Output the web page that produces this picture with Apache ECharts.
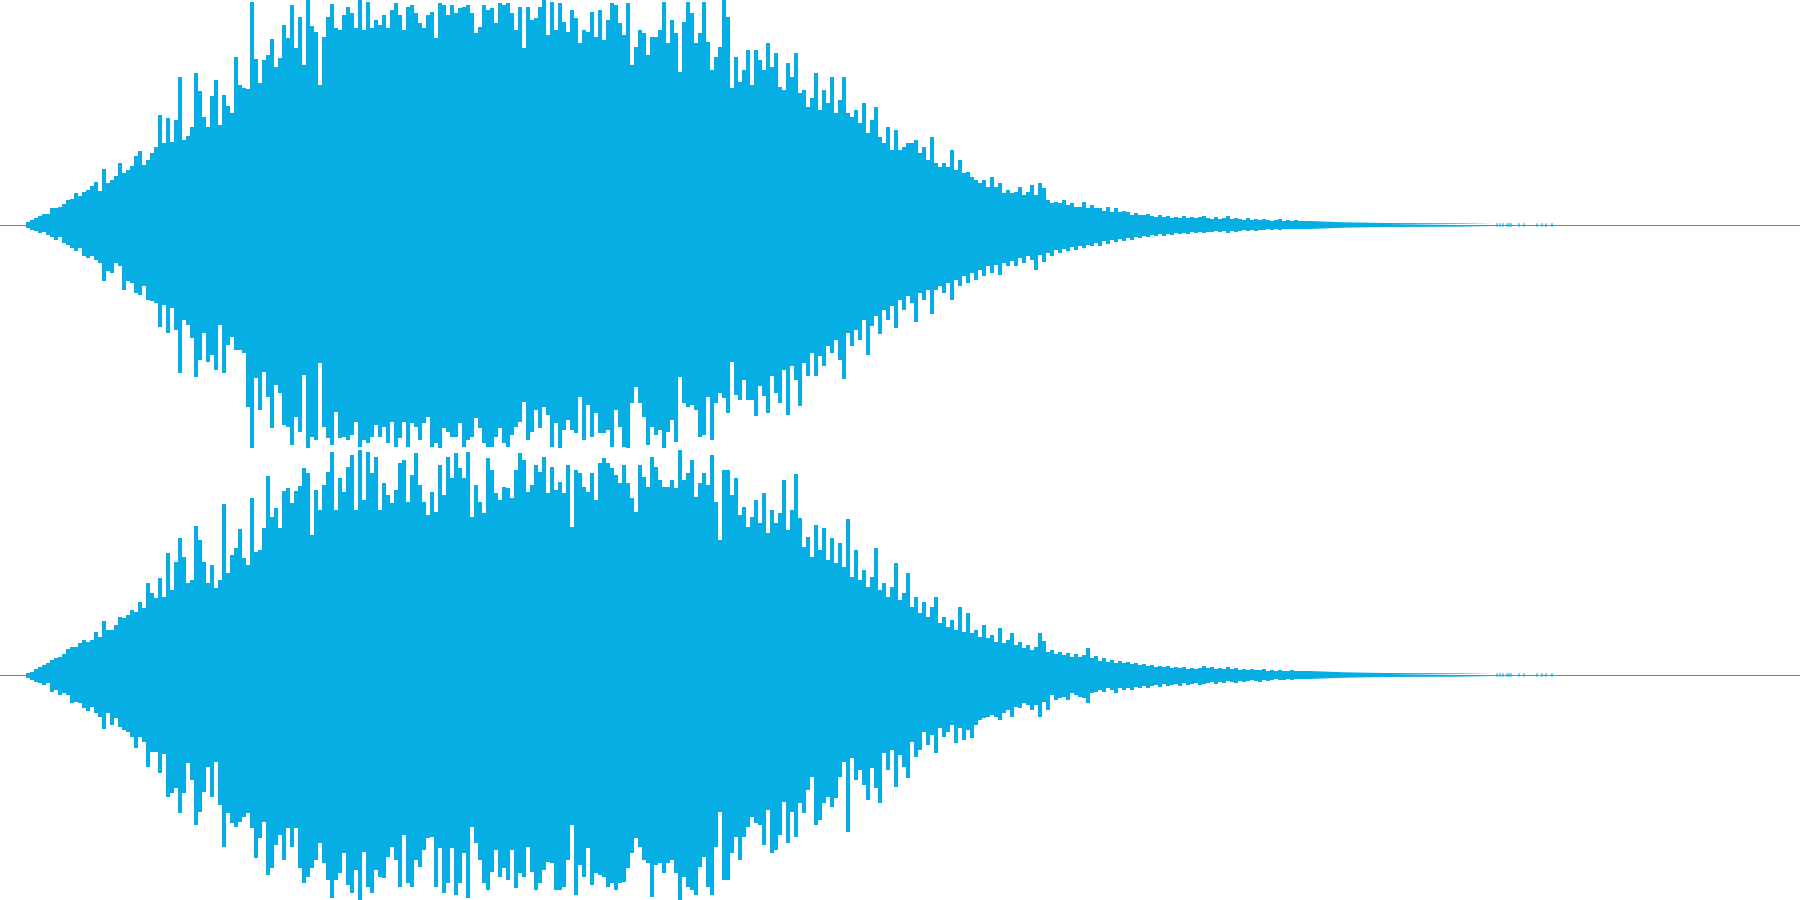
<!DOCTYPE html>
<html>
<head>
<meta charset="utf-8">
<script src="https://cdn.jsdelivr.net/npm/echarts@6/dist/echarts.min.js"></script>
<style>
html,body{margin:0;padding:0;background:#ffffff;}
#chart{width:1800px;height:900px;}
</style>
</head>
<body>
<div id="chart"></div>
<script>
// Peak-per-block waveform of a stereo clip (0..1800 ms).
// Blocks are 4 ms wide and start at 28 ms; values are peak amplitude
// on a scale where FULL_SCALE is a full-scale sample.
var FULL_SCALE = 225;
var CLIP_END_MS = 1800;
var BLOCK_START_MS = 28;
var BLOCK_MS = 4;

var leftPos = [3,5,7,9,11,11,17,17,18,21,25,26,32,29,33,35,39,43,34,56,42,45,49,62,52,55,59,69,74,60,65,
72,78,110,82,107,83,105,148,85,89,98,152,134,108,98,129,145,100,130,119,112,168,140,137,136,223,166,142,165,170,186,158,167,200,187,220,177,208,160,225,199,193,140,188,208,221,197,195,210,218,212,197,225,195,223,197,205,200,210,197,215,222,210,195,218,220,212,202,197,210,213,187,222,220,210,220,212,217,218,220,212,192,198,220,215,217,202,222,220,222,212,195,218,177,218,205,207,218,225,190,223,195,222,203,193,215,207,182,195,193,213,188,215,185,205,222,220,202,190,222,160,178,195,192,170,188,188,195,223,182,205,192,153,203,223,212,182,192,223,183,155,168,178,225,208,137,168,143,155,175,
140,175,165,155,182,158,172,138,135,162,148,172,132,135,118,127,152,115,135,122,148,112,125,148,112,108,115,102,122,92,105,118,88,82,98,75,95,75,78,82,82,85,72,78,65,88,62,58,62,58,75,55,65,52,53,48,45,42,45,38,48,38,42,32,35,32,33,38,30,33,40,30,42,37,25,22,23,22,25,20,22,18,18,23,17,20,17,17,14,18,13,17,13,14,13,10,12,10,10,11,
9,8,10,8,9,7,8,7,9,7,8,7,8,9,7,6,8,6,7,9,6,7,6,5,7,5,6,5,6,5,4,5,6,4,5,4,5,4];
var leftNeg = [3,5,6,8,7,10,12,15,12,18,20,23,26,23,31,33,31,35,38,56,46,48,38,41,65,56,58,68,70,61,75,
76,78,102,80,108,83,105,148,95,100,113,152,135,108,137,130,145,100,148,120,112,125,125,128,182,223,153,185,147,172,203,160,168,200,202,220,192,207,150,223,212,215,138,202,213,220,187,213,212,215,210,197,222,215,218,212,200,212,202,218,197,222,213,197,222,198,202,215,198,192,222,218,223,203,207,212,212,198,222,215,212,193,203,218,222,222,212,203,218,222,210,202,197,177,215,207,185,203,182,190,222,198,223,205,195,205,208,172,215,180,212,188,208,208,205,222,185,202,222,223,178,162,178,192,220,202,210,205,223,207,195,217,152,178,182,180,185,212,210,172,215,178,168,173,188,137,170,175,155,175,
175,191,161,171,188,151,168,178,145,190,141,155,181,138,151,128,151,131,141,121,128,115,135,154,108,121,105,115,95,130,101,91,109,85,95,81,103,75,85,71,78,97,68,75,65,89,65,61,68,58,75,55,61,51,58,48,55,45,51,41,48,40,50,38,41,36,41,33,38,31,35,45,30,37,28,31,25,28,24,26,22,25,21,23,20,21,18,21,16,19,15,17,14,16,13,15,12,13,11,12,
10,11,9,11,9,10,8,9,8,9,7,8,7,8,7,7,6,7,6,8,6,7,6,5,6,5,6,5,5,4,5,4,5,4,4,4,4,4];
var rightPos = [2,3,6,8,10,12,15,17,18,21,26,28,28,32,35,33,35,43,38,54,45,45,50,58,57,60,65,63,73,67,92,
82,77,97,78,122,85,113,137,118,92,95,149,135,113,92,110,87,95,171,102,120,127,146,117,110,177,123,125,147,199,158,167,147,184,187,172,184,189,207,202,140,185,165,190,203,223,165,197,183,208,220,165,225,175,223,202,218,165,192,180,172,185,212,215,173,200,222,190,173,160,183,163,210,180,218,197,222,207,197,223,158,190,173,162,217,205,182,175,188,187,177,205,222,215,183,190,210,203,218,182,208,185,193,182,210,148,205,202,188,183,202,175,212,217,212,207,200,192,210,192,177,163,210,198,188,218,208,195,188,188,195,187,225,195,202,215,178,192,202,190,220,173,135,205,205,180,197,160,168,148,
158,175,152,182,142,165,152,162,195,145,165,201,157,128,138,118,150,125,147,115,137,112,132,108,156,98,125,95,105,88,98,127,85,92,78,88,112,75,82,102,68,78,62,73,58,68,78,52,58,48,55,45,68,43,62,42,45,38,50,37,40,33,47,32,35,42,30,33,27,30,25,28,42,34,23,25,21,23,20,22,18,21,18,20,27,17,19,14,17,13,15,12,14,12,13,11,12,10,11,9,
10,8,9,8,9,7,8,7,8,6,7,6,7,9,7,8,6,7,6,8,6,7,5,6,5,6,5,5,6,4,5,4,5,4,4,5,4,4];
var rightNeg = [3,5,7,8,10,8,17,15,20,18,20,28,27,28,33,36,32,38,42,54,38,50,43,52,55,57,62,73,62,67,92,
77,77,98,79,122,118,113,138,118,88,105,150,137,117,92,122,87,130,172,138,148,152,147,142,138,153,183,163,147,200,193,170,160,185,153,172,153,193,208,202,193,185,168,188,205,223,205,198,178,210,218,195,225,177,212,218,195,202,203,182,172,185,212,160,208,212,185,192,175,163,162,212,173,218,208,173,220,208,178,223,152,168,185,208,215,197,175,202,193,205,175,213,198,202,172,197,215,208,195,187,188,215,215,212,185,150,220,190,202,173,210,198,200,202,212,208,215,208,207,193,178,163,172,185,188,222,190,188,198,188,185,198,225,202,212,215,220,192,182,212,220,172,137,205,205,178,162,185,162,152,
142,148,150,170,135,178,175,160,127,168,137,162,128,138,115,102,150,145,128,122,132,123,102,87,157,83,105,95,110,125,93,113,128,78,95,75,112,80,92,103,67,82,75,57,70,60,78,53,62,57,50,68,53,65,55,63,50,45,43,42,40,42,45,38,35,42,32,33,28,30,35,30,42,27,35,20,25,23,22,25,18,20,22,23,28,18,17,15,17,13,15,18,13,15,13,15,12,13,11,13,
11,10,12,9,11,10,9,11,8,10,9,8,10,9,8,7,9,7,8,6,7,8,6,7,6,5,6,7,5,6,5,4,5,5,4,5,4,4];

// Faint tail after the blocks: [time ms, peak amplitude] (same for both channels)
var tailTime  = [1300, 1310, 1312, 1343, 1345, 1384, 1386, 1494, 1495];
var tailLevel = [4, 4, 2.7, 2.7, 2, 2, 1.5, 1.5, 0];
// Isolated clicks at the very end (ms), peak amplitude ~1.7
var clickTime = [1497, 1500, 1503, 1507, 1509, 1511, 1519, 1524, 1537, 1542, 1546, 1552];
var clickLevel = 1.7;

var WAVE = '#07aee3';
var AXIS = '#12a6dc';

function blocks(pos, neg) {
  var out = [];
  for (var i = 0; i < pos.length; i++) {
    out.push([BLOCK_START_MS + i * BLOCK_MS, pos[i], neg[i]]);
  }
  return out;
}

function renderBlock(params, api) {
  var t = api.value(0);
  var a = api.coord([t - BLOCK_MS / 2, api.value(1)]);
  var b = api.coord([t + BLOCK_MS / 2, -api.value(2)]);
  return {
    type: 'rect',
    shape: { x: a[0], y: a[1], width: b[0] - a[0], height: b[1] - a[1] },
    style: { fill: WAVE }
  };
}

function renderClick(params, api) {
  var t = api.value(0);
  var a = api.coord([t - 0.6, clickLevel]);
  var b = api.coord([t + 0.6, -clickLevel]);
  return {
    type: 'rect',
    shape: { x: a[0], y: a[1], width: b[0] - a[0], height: b[1] - a[1] },
    style: { fill: WAVE }
  };
}

function zip(t, v, sign) {
  var out = [];
  for (var i = 0; i < t.length; i++) out.push([t[i], sign * v[i]]);
  return out;
}

function channel(idx, pos, neg) {
  var tailBase = {
    type: 'line', xAxisIndex: idx, yAxisIndex: idx, silent: true,
    showSymbol: false, symbol: 'none',
    lineStyle: { width: 0 },
    areaStyle: { color: WAVE, opacity: 1 }
  };
  return [
    {
      type: 'custom', xAxisIndex: idx, yAxisIndex: idx, silent: true,
      data: blocks(pos, neg), encode: { x: 0, y: 1 },
      renderItem: renderBlock, z: 3
    },
    Object.assign({}, tailBase, {
      data: zip(tailTime, tailLevel, 1),
      markLine: {
        silent: true, symbol: 'none', animation: false,
        label: { show: false },
        lineStyle: { color: AXIS, width: 1, type: 'solid' },
        data: [{ yAxis: 0 }]
      }
    }),
    Object.assign({}, tailBase, { data: zip(tailTime, tailLevel, -1) }),
    {
      type: 'custom', xAxisIndex: idx, yAxisIndex: idx, silent: true,
      data: clickTime.map(function (t) { return [t, 0]; }), encode: { x: 0, y: 1 },
      renderItem: renderClick, z: 3
    }
  ];
}

var chart = echarts.init(document.getElementById('chart'), null, { renderer: 'canvas' });
chart.setOption({
  animation: false,
  backgroundColor: '#ffffff',
  grid: [
    { left: 0, right: 0, top: 0, height: 450 },
    { left: 0, right: 0, top: 450, height: 450 }
  ],
  xAxis: [
    { type: 'value', gridIndex: 0, min: 0, max: CLIP_END_MS, show: false },
    { type: 'value', gridIndex: 1, min: 0, max: CLIP_END_MS, show: false }
  ],
  yAxis: [
    { type: 'value', gridIndex: 0, min: -FULL_SCALE, max: FULL_SCALE, show: false },
    { type: 'value', gridIndex: 1, min: -FULL_SCALE, max: FULL_SCALE, show: false }
  ],
  series: [].concat(channel(0, leftPos, leftNeg), channel(1, rightPos, rightNeg))
});
</script>
</body>
</html>
